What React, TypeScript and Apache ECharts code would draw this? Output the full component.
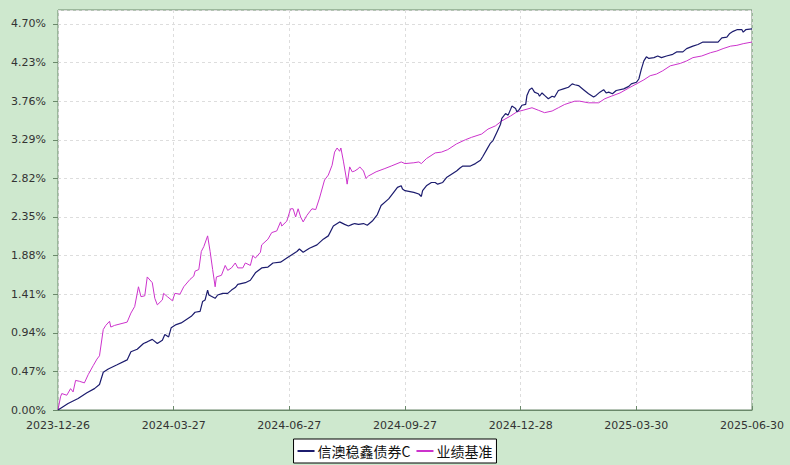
import React, { useEffect, useRef } from "react";
import * as echarts from "echarts";

const START_DATE = "2023-12-26";
const TOTAL_DAYS = 552;
const X_TICK_STEP = 92;
const Y_MAX = 4.87;
const Y_STEP = 0.47;

const seriesNames = ["信澳稳鑫债券C", "业绩基准"];

// days since 2023-12-26
const fundDay = [
  0, 8, 16, 23, 29, 33, 36, 40, 47, 55,
  58, 63, 68, 71, 75, 79, 83, 85, 88, 90,
  94, 98, 106, 109, 113, 115, 117, 119, 120, 125,
  127, 131, 135, 138, 141, 143, 149, 153, 157, 162,
  167, 171, 177, 182, 186, 190, 192, 195, 200, 206,
  211, 215, 219, 224, 228, 231, 234, 236, 239, 243,
  246, 250, 254, 257, 263, 267, 270, 273, 274, 276,
  283, 287, 289, 290, 293, 297, 300, 302, 306, 309,
  313, 317, 320, 322, 328, 332, 336, 338, 341, 344,
  346, 349, 352, 353, 356, 358, 360, 361, 364, 365,
  367, 369, 372, 373, 375, 377, 379, 382, 383, 385,
  387, 390, 393, 395, 398, 402, 406, 409, 411, 414,
  418, 422, 426, 428, 431, 434, 436, 438, 441, 444,
  450, 454, 456, 460, 462, 464, 466, 468, 470, 474,
  477, 480, 484, 489, 492, 497, 500, 505, 509, 513,
  521, 525, 528, 532, 534, 537, 540, 544, 545, 547,
  552,
];
const fundValue = [
  0.0, 0.08, 0.14, 0.21, 0.26, 0.31, 0.46, 0.5, 0.55, 0.61,
  0.71, 0.74, 0.81, 0.83, 0.86, 0.81, 0.85, 0.92, 0.89, 1.0,
  1.04, 1.06, 1.14, 1.19, 1.2, 1.32, 1.34, 1.46, 1.4, 1.36,
  1.4, 1.42, 1.42, 1.46, 1.49, 1.53, 1.55, 1.58, 1.67, 1.73,
  1.74, 1.79, 1.8, 1.85, 1.89, 1.93, 1.96, 1.92, 1.97, 2.01,
  2.08, 2.12, 2.24, 2.29, 2.26, 2.24, 2.26, 2.27, 2.26, 2.27,
  2.25, 2.3, 2.38, 2.49, 2.57, 2.65, 2.71, 2.73, 2.69, 2.67,
  2.65, 2.63, 2.6, 2.67, 2.73, 2.77, 2.77, 2.75, 2.77, 2.83,
  2.87, 2.91, 2.95, 2.97, 2.97, 3.0, 3.04, 3.09, 3.17, 3.25,
  3.28, 3.38, 3.48, 3.55, 3.61, 3.59, 3.66, 3.7, 3.67, 3.63,
  3.66, 3.71, 3.72, 3.83, 3.9, 3.92, 3.87, 3.85, 3.82, 3.86,
  3.83, 3.79, 3.82, 3.81, 3.89, 3.91, 3.93, 3.97, 3.96, 3.95,
  3.9, 3.85, 3.81, 3.83, 3.87, 3.9, 3.86, 3.87, 3.85, 3.89,
  3.91, 3.94, 3.97, 3.99, 4.03, 4.15, 4.25, 4.3, 4.28, 4.29,
  4.31, 4.29, 4.31, 4.33, 4.36, 4.36, 4.4, 4.43, 4.45, 4.48,
  4.48, 4.48, 4.53, 4.54, 4.58, 4.61, 4.63, 4.63, 4.6, 4.63,
  4.64,
];

const benchDay = [
  0, 2, 3, 7, 10, 12, 14, 17, 21, 24,
  28, 31, 33, 36, 38, 41, 42, 45, 55, 58,
  61, 64, 66, 69, 71, 75, 77, 79, 83, 84,
  87, 91, 93, 97, 100, 105, 108, 109, 112, 114,
  116, 119, 121, 123, 125, 126, 130, 133, 135, 138,
  141, 143, 147, 149, 153, 155, 157, 161, 162, 167,
  170, 174, 177, 178, 182, 185, 187, 189, 191, 193,
  195, 198, 202, 205, 208, 212, 215, 218, 220, 222,
  224, 225, 227, 229, 230, 232, 234, 236, 239, 240,
  243, 245, 247, 253, 260, 265, 273, 276, 283, 287,
  289, 293, 300, 305, 310, 317, 324, 329, 337, 342,
  348, 353, 360, 365, 370, 377, 382, 387, 393, 398,
  403, 411, 415, 422, 430, 435, 440, 447, 454, 460,
  466, 471, 476, 481, 487, 495, 500, 505, 512, 519,
  524, 529, 535, 540, 545, 552,
];
const benchValue = [
  0.0, 0.16, 0.2, 0.18, 0.26, 0.22, 0.36, 0.35, 0.33, 0.43,
  0.54, 0.62, 0.66, 0.98, 1.03, 1.08, 1.01, 1.03, 1.07, 1.18,
  1.26, 1.5, 1.38, 1.39, 1.62, 1.55, 1.36, 1.28, 1.34, 1.42,
  1.38, 1.33, 1.42, 1.41, 1.5, 1.59, 1.63, 1.69, 1.71, 1.93,
  1.99, 2.12, 1.93, 1.71, 1.5, 1.62, 1.64, 1.76, 1.7, 1.73,
  1.79, 1.73, 1.73, 1.79, 1.76, 1.88, 1.85, 1.92, 2.01, 2.08,
  2.16, 2.18, 2.29, 2.24, 2.3, 2.45, 2.45, 2.35, 2.45, 2.35,
  2.29, 2.37, 2.45, 2.44, 2.58, 2.8, 2.86, 2.98, 3.14, 3.19,
  3.15, 3.19, 3.03, 2.85, 2.75, 2.96, 2.9, 2.91, 2.94, 2.96,
  2.91, 2.82, 2.85, 2.9, 2.94, 2.97, 3.02, 3.0, 3.01, 3.02,
  3.0, 3.06, 3.13, 3.14, 3.17, 3.24, 3.29, 3.32, 3.36, 3.42,
  3.46, 3.52, 3.58, 3.63, 3.65, 3.68, 3.65, 3.62, 3.64, 3.68,
  3.72, 3.76, 3.76, 3.74, 3.74, 3.79, 3.82, 3.86, 3.92, 3.97,
  4.02, 4.07, 4.09, 4.13, 4.19, 4.22, 4.25, 4.29, 4.31, 4.35,
  4.37, 4.4, 4.43, 4.44, 4.46, 4.48,
];

function zip(xs: number[], ys: number[]) {
  const n = Math.min(xs.length, ys.length);
  const out: number[][] = [];
  for (let i = 0; i < n; i++) out.push([xs[i], ys[i]]);
  return out;
}

const startMs = Date.parse(START_DATE + "T00:00:00Z");
function dayToDate(d: number) {
  const dt = new Date(startMs + Math.round(d) * 86400000);
  const y = dt.getUTCFullYear();
  const m = String(dt.getUTCMonth() + 1).padStart(2, "0");
  const dd = String(dt.getUTCDate()).padStart(2, "0");
  return `${y}-${m}-${dd}`;
}

const AXIS_COLOR = "#6a886a";
const FONT = "DejaVu Sans";

export default function App() {
  const ref = useRef<HTMLDivElement>(null);
  useEffect(() => {
    document.body.style.margin = "0";
    if (!ref.current) return;
    const chart = echarts.init(ref.current, undefined, { renderer: "svg" });
    chart.setOption({
      animation: false,
      backgroundColor: "#cee8ce",
      grid: {
        left: 58,
        right: 38,
        top: 10,
        bottom: 55,
        show: true,
        backgroundColor: "#ffffff",
        borderColor: AXIS_COLOR,
        borderWidth: 1,
      },
      legend: {
        data: seriesNames,
        bottom: 2,
        left: "center",
        backgroundColor: "#ffffff",
        borderColor: "#000000",
        borderWidth: 1,
        borderRadius: 0,
        padding: [5, 4],
        itemGap: 6,
        itemWidth: 17,
        itemHeight: 2,
        icon: "rect",
        textStyle: {
          fontFamily: "Noto Sans CJK SC",
          fontSize: 14,
          color: "#111",
          padding: [0, 0, 0, -2],
        },
      },
      xAxis: {
        type: "value",
        min: 0,
        max: TOTAL_DAYS,
        interval: X_TICK_STEP,
        offset: 4,
        axisLine: { show: true, lineStyle: { color: AXIS_COLOR } },
        axisTick: { show: true, inside: true, length: 4, lineStyle: { color: AXIS_COLOR } },
        axisLabel: {
          margin: 6,
          color: "#333",
          fontFamily: FONT,
          fontSize: 11,
          showMinLabel: true,
          showMaxLabel: true,
          formatter: (v: number) => dayToDate(v),
        },
        splitLine: { show: true, lineStyle: { color: "#dddddd", type: [3, 3] } },
      },
      yAxis: {
        type: "value",
        min: 0,
        max: Y_MAX,
        interval: Y_STEP,
        axisLine: { show: false },
        axisTick: { show: true, length: 5, lineStyle: { color: AXIS_COLOR } },
        axisLabel: {
          margin: 12,
          color: "#333",
          fontFamily: FONT,
          fontSize: 11,
          showMaxLabel: false,
          formatter: (v: number) => v.toFixed(2) + "%",
        },
        splitLine: { show: true, lineStyle: { color: "#dddddd", type: [3, 3] } },
      },
      series: [
        {
          name: seriesNames[1],
          type: "line",
          data: zip(benchDay, benchValue),
          showSymbol: false,
          symbol: "none",
          lineStyle: { color: "#cc33cc", width: 1 },
          itemStyle: { color: "#cc33cc" },
          z: 2,
        },
        {
          name: seriesNames[0],
          type: "line",
          data: zip(fundDay, fundValue),
          showSymbol: false,
          symbol: "none",
          lineStyle: { color: "#1c1c6e", width: 1.2 },
          itemStyle: { color: "#1c1c6e" },
          z: 3,
        },
      ],
    });
    return () => chart.dispose();
  }, []);
  return <div ref={ref} style={{ width: 790, height: 465 }} />;
}
